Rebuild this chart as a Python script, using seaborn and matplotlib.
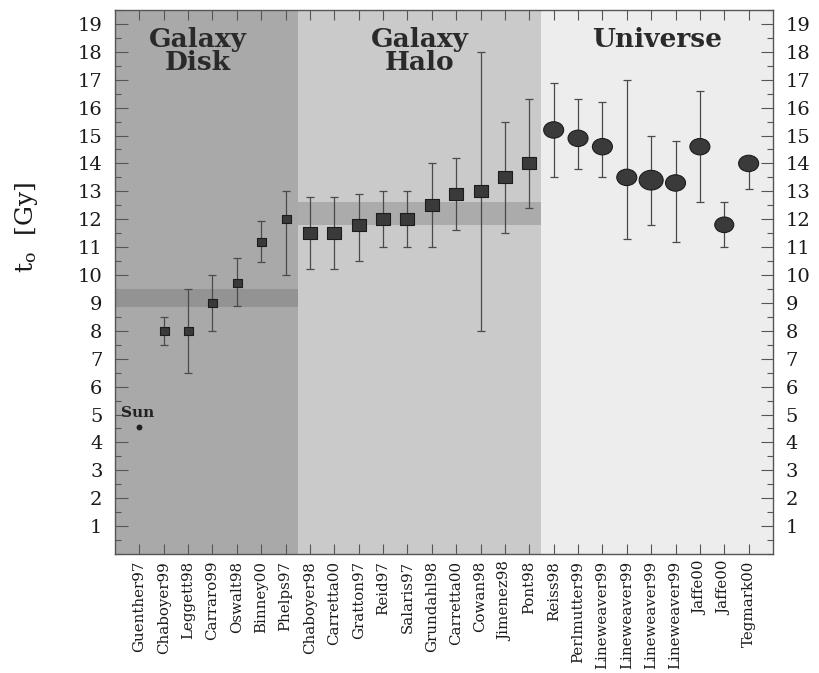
import numpy as np
import pandas as pd
import matplotlib
matplotlib.use("Agg")
import matplotlib.pyplot as plt
from matplotlib.path import Path
from matplotlib.ticker import MultipleLocator, FixedLocator
import seaborn as sns

# ---- data: ages of the Universe / Galaxy estimates [Gyr] ----
disk_labels = ["Guenther97", "Chaboyer99", "Leggett98", "Carraro99",
               "Oswalt98", "Binney00", "Phelps97"]
disk_age = [8.0, 8.0, 9.0, 9.7, 11.2, 12.0]          # Chaboyer99 .. Phelps97
disk_err_lo = [0.5, 1.5, 1.0, 0.8, 0.75, 2.0]
disk_err_hi = [0.5, 1.5, 1.0, 0.9, 0.75, 1.0]
sun_age = 4.55                                         # plotted at Guenther97

halo_labels = ["Chaboyer98", "Carretta00", "Gratton97", "Reid97", "Salaris97",
               "Grundahl98", "Carretta00", "Cowan98", "Jimenez98", "Pont98"]
halo_age = [11.5, 11.5, 11.8, 12.0, 12.0, 12.5, 12.9, 13.0, 13.5, 14.0]
halo_err_lo = [1.3, 1.3, 1.3, 1.0, 1.0, 1.5, 1.3, 5.0, 2.0, 1.6]
halo_err_hi = [1.3, 1.3, 1.1, 1.0, 1.0, 1.5, 1.3, 5.0, 2.0, 2.3]

universe_labels = ["Reiss98", "Perlmutter99", "Lineweaver99", "Lineweaver99",
                   "Lineweaver99", "Lineweaver99", "Jaffe00", "Jaffe00",
                   "Tegmark00"]
universe_age = [15.2, 14.9, 14.6, 13.5, 13.4, 13.3, 14.6, 11.8, 14.0]
universe_err_lo = [1.7, 1.1, 1.1, 2.2, 1.6, 2.1, 2.0, 0.8, 0.9]
universe_err_hi = [1.7, 1.4, 1.6, 3.5, 1.6, 1.5, 2.0, 0.8, 0.0]

disk_band = (8.85, 9.5)
halo_band = (11.8, 12.6)

region_titles = ["Galaxy\nDisk", "Galaxy\nHalo", "Universe"]

# ---- assemble tables ----
labels = disk_labels + halo_labels + universe_labels
n_disk, n_halo, n_univ = len(disk_labels), len(halo_labels), len(universe_labels)
pos = np.arange(len(labels))

disk_df = pd.DataFrame({"x": pos[1:n_disk], "age": disk_age,
                        "lo": disk_err_lo, "hi": disk_err_hi})
halo_df = pd.DataFrame({"x": pos[n_disk:n_disk + n_halo], "age": halo_age,
                        "lo": halo_err_lo, "hi": halo_err_hi})
univ_df = pd.DataFrame({"x": pos[n_disk + n_halo:], "age": universe_age,
                        "lo": universe_err_lo, "hi": universe_err_hi})
univ_marker_px = [20, 20, 20, 20, 24, 20, 20, 19, 20]

# ---- style ----
sns.set_theme(style="ticks")
plt.rcParams["font.family"] = ["DejaVu Serif", "DejaVu Sans"]
plt.rcParams["mathtext.fontset"] = "dejavuserif"

fig = plt.figure(figsize=(8.2, 6.73), dpi=100)
fig.patch.set_facecolor("white")
ax = fig.add_axes([115 / 820, 1 - 554 / 673, (773 - 115) / 820, (554 - 10) / 673])

xmin, xmax = -1, 26
ymin, ymax = 0, 19.5
b1 = n_disk - 0.5
b2 = n_disk + n_halo - 0.5

# region backgrounds
ax.axvspan(xmin, b1, color="#a9a9a9", lw=0, zorder=0)
ax.axvspan(b1, b2, color="#cacaca", lw=0, zorder=0)
ax.axvspan(b2, xmax, color="#ededed", lw=0, zorder=0)
# mean-age bands
ax.fill_between([xmin, b1], *disk_band, color="#939393", lw=0, zorder=1)
ax.fill_between([b1, b2], *halo_band, color="#ababab", lw=0, zorder=1)

# custom marker shapes
rect = Path([(-0.5, -0.44), (0.5, -0.44), (0.5, 0.44), (-0.5, 0.44), (-0.5, -0.44)],
            [Path.MOVETO, Path.LINETO, Path.LINETO, Path.LINETO, Path.CLOSEPOLY])
circ = Path.unit_circle()
ellipse = Path(circ.vertices * np.array([1.0, 0.82]), circ.codes)

err_kw = dict(fmt="none", ecolor="#4a4a4a", elinewidth=0.9, capsize=2.9,
              capthick=0.9, zorder=2)
for df in (disk_df, halo_df, univ_df):
    ax.errorbar(df["x"], df["age"], yerr=[df["lo"], df["hi"]], **err_kw)

pt = 72 / 100  # points per pixel
mk_kw = dict(color="#3a3a3a", edgecolor="#1c1c1c", linewidth=0.8, zorder=3,
             legend=False, ax=ax)
sns.scatterplot(data=disk_df, x="x", y="age", marker=rect,
                s=(9 * pt) ** 2, **mk_kw)
sns.scatterplot(data=halo_df, x="x", y="age", marker=rect,
                s=(13.3 * pt) ** 2, **mk_kw)
sns.scatterplot(data=univ_df, x="x", y="age", marker=ellipse,
                s=[(p * pt) ** 2 for p in univ_marker_px], **mk_kw)

# the Sun
ax.plot([pos[0]], [sun_age], marker="o", ms=3.2, color="#202020", zorder=3)
ax.text(pos[0] - 0.75, sun_age + 0.25, "Sun", fontsize=11, fontweight="bold",
        color="#222222", ha="left", va="bottom")

# region titles
title_kw = dict(fontsize=19, fontweight="bold", color="#2a2a2a",
                ha="center", va="top", linespacing=0.9, zorder=4)
ax.text(2.4, 18.9, region_titles[0], **title_kw)
ax.text((b1 + b2) / 2, 18.9, region_titles[1], **title_kw)
ax.text((b2 + xmax) / 2, 18.9, region_titles[2], **title_kw)

# axes
ax.set_xlim(xmin, xmax)
ax.set_ylim(ymin, ymax)
ax.set_xticks(pos)
ax.set_xticklabels(labels, rotation=90, fontsize=10.8, color="#1a1a1a")
ax.yaxis.set_major_locator(FixedLocator(np.arange(1, 20)))
ax.yaxis.set_minor_locator(MultipleLocator(0.5))
ax.tick_params(axis="x", which="major", direction="in", top=True, bottom=True,
               length=7, width=0.8, color="#555555", pad=5)
ax.tick_params(axis="y", which="major", direction="in", left=True, right=True,
               labelleft=True, labelright=True, length=9, width=0.8,
               color="#555555", labelsize=14, labelcolor="#1a1a1a", pad=9)
ax.tick_params(axis="y", which="minor", direction="in", left=True, right=True,
               length=4.5, width=0.8, color="#555555")
ax.set_xlabel("")
ax.set_ylabel("")
for s in ax.spines.values():
    s.set_visible(True)
    s.set_color("#555555")
    s.set_linewidth(1.0)

fig.text(27 / 820, 1 - 228 / 673, r"t$_\mathrm{o}$  [Gy]", rotation=90,
         fontsize=18, color="#1a1a1a", ha="center", va="center")

fig.savefig("out.png", dpi=100)
